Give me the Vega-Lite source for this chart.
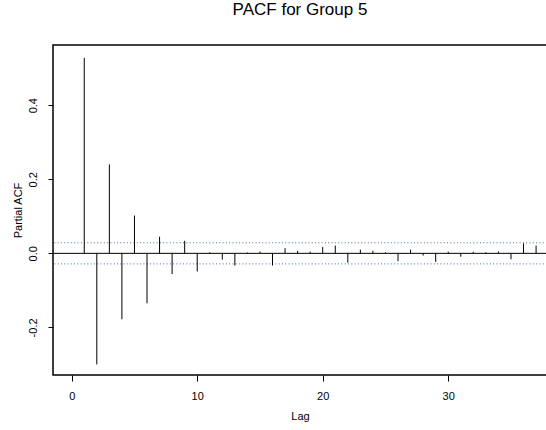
{
  "$schema": "https://vega.github.io/schema/vega-lite/v6.json",
  "autosize": {"type": "none"},
  "padding": {"left": 53, "top": 45, "right": 0, "bottom": 55},
  "width": 494,
  "height": 330,
  "background": "white",
  "config": {
    "font": "Liberation Sans",
    "view": {"stroke": "black", "strokeWidth": 1.5},
    "axis": {
      "grid": false,
      "domain": false,
      "tickColor": "black",
      "tickWidth": 1,
      "labelColor": "black",
      "titleColor": "black",
      "labelFont": "Liberation Sans",
      "titleFont": "Liberation Sans",
      "labelFontSize": 11,
      "titleFontSize": 11,
      "titleFontWeight": "normal"
    }
  },
  "title": {
    "text": "PACF for Group 5",
    "fontSize": 17,
    "fontWeight": "normal",
    "font": "Liberation Sans",
    "color": "black",
    "anchor": "middle",
    "baseline": "alphabetic",
    "offset": 13
  },
  "datasets": {
    "pacf": [
      {"lag": 1, "pacf": 0.528},
      {"lag": 2, "pacf": -0.300},
      {"lag": 3, "pacf": 0.240},
      {"lag": 4, "pacf": -0.178},
      {"lag": 5, "pacf": 0.102},
      {"lag": 6, "pacf": -0.135},
      {"lag": 7, "pacf": 0.045},
      {"lag": 8, "pacf": -0.056},
      {"lag": 9, "pacf": 0.034},
      {"lag": 10, "pacf": -0.049},
      {"lag": 11, "pacf": 0.003},
      {"lag": 12, "pacf": -0.017},
      {"lag": 13, "pacf": -0.033},
      {"lag": 14, "pacf": 0.002},
      {"lag": 15, "pacf": 0.005},
      {"lag": 16, "pacf": -0.033},
      {"lag": 17, "pacf": 0.014},
      {"lag": 18, "pacf": 0.007},
      {"lag": 19, "pacf": 0.0045},
      {"lag": 20, "pacf": 0.017},
      {"lag": 21, "pacf": 0.021},
      {"lag": 22, "pacf": -0.025},
      {"lag": 23, "pacf": 0.010},
      {"lag": 24, "pacf": 0.007},
      {"lag": 25, "pacf": 0.003},
      {"lag": 26, "pacf": -0.021},
      {"lag": 27, "pacf": 0.010},
      {"lag": 28, "pacf": -0.006},
      {"lag": 29, "pacf": -0.023},
      {"lag": 30, "pacf": 0.0045},
      {"lag": 31, "pacf": -0.009},
      {"lag": 32, "pacf": 0.004},
      {"lag": 33, "pacf": 0.003},
      {"lag": 34, "pacf": 0.005},
      {"lag": 35, "pacf": -0.016},
      {"lag": 36, "pacf": 0.027},
      {"lag": 37, "pacf": 0.021}
    ],
    "bounds": [
      {"bound": 0.0285},
      {"bound": -0.0285}
    ]
  },
  "layer": [
    {
      "data": {"name": "bounds"},
      "mark": {"type": "rule", "color": "#3d6db5", "strokeWidth": 1, "strokeDash": [1, 2.3]},
      "encoding": {
        "y": {"field": "bound", "type": "quantitative", "scale": {"domain": [-0.3285, 0.5626], "nice": false, "zero": false}}
      }
    },
    {
      "data": {"values": [{}]},
      "mark": {"type": "rule", "color": "black", "strokeWidth": 1},
      "encoding": {
        "y": {"datum": 0, "type": "quantitative"}
      }
    },
    {
      "data": {"name": "pacf"},
      "mark": {"type": "rule", "color": "black", "strokeWidth": 1},
      "encoding": {
        "x": {
          "field": "lag",
          "type": "quantitative",
          "scale": {"domain": [-1.49, 37.87], "nice": false, "zero": false},
          "axis": {
            "title": "Lag",
            "values": [0, 10, 20, 30],
            "format": "d",
            "tickSize": 6,
            "labelPadding": 9,
            "labelBaseline": "top",
            "titleX": 247,
            "titleY": 41.4,
            "titleBaseline": "middle",
            "titleAlign": "center"
          }
        },
        "y": {
          "field": "pacf",
          "type": "quantitative",
          "scale": {"domain": [-0.3285, 0.5626], "nice": false, "zero": false},
          "axis": {
            "title": "Partial ACF",
            "values": [-0.2, 0, 0.2, 0.4],
            "labelExpr": "datum.value < 0 ? '-' + format(-datum.value, '.1f') : format(datum.value, '.1f')",
            "tickSize": 5,
            "labelAngle": 270,
            "labelAlign": "center",
            "labelBaseline": "middle",
            "labelPadding": 15,
            "titleX": -35,
            "titleY": 165,
            "titleAngle": 270,
            "titleBaseline": "middle",
            "titleAlign": "center"
          }
        },
        "y2": {"datum": 0}
      }
    }
  ]
}
